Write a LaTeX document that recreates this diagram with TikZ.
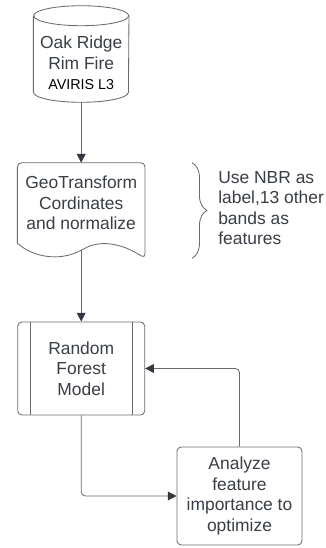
\documentclass[tikz,border=0pt]{standalone}
\usepackage{fontspec}
\setmainfont{Liberation Sans}
\definecolor{LineGray}{RGB}{104, 108, 114}
\definecolor{TextGray}{RGB}{58, 63, 71}
\definecolor{TipDark}{RGB}{52, 57, 64}
\usetikzlibrary{arrows.meta, positioning, calc, decorations.pathreplacing}

\begin{document}
\begin{tikzpicture}[
        plain/.style={align=center, text=TextGray, inner sep=0pt, font=\fontsize{12.4}{14.6}\selectfont},
        box/.style={plain, draw=LineGray, line width=0.6pt, rounded corners=3pt},
        outline/.style={draw=LineGray, line width=0.6pt},
        flow/.style={outline, rounded corners=3pt, -{Triangle[length=0.22cm, width=0.22cm, color=TipDark]}}
    ]
        \fill[white] (0,0) rectangle (8.15,13.7);

        % Data source, cylinder drawn round the text node
        \node[plain, minimum width=2.375cm, minimum height=1.85cm] (src) at (2.03, 12.125)
            {Oak Ridge\\Rim Fire\\{\color{black}\fontsize{10.2}{14.6}\selectfont AVIRIS L3}};
        \draw[outline] ($(src.north west)+(0,0.25)$) -- ($(src.south west)+(0,0.2)$)
            arc[start angle=180, end angle=360, x radius=1.1875, y radius=0.25] -- ($(src.north east)+(0,0.25)$);
        \draw[outline] ($(src.north)+(0,0.25)$) ellipse[x radius=1.1875, y radius=0.25];
        \coordinate (src bot) at ($(src.south)+(0,-0.05)$);

        % Preprocessing, document shape with wavy bottom
        \node[plain, minimum width=3.175cm, minimum height=2cm] (geo) at (2.03, 8.625)
            {GeoTransform\\Cordinates\\and normalize};
        \draw[outline, rounded corners=3pt] (geo.south west) -- (geo.north west) -- (geo.north east)
            -- ($(geo.south east)+(0,-0.375)$)
            .. controls ($(geo.south east)+(-0.625,0.025)$) and ($(geo.south)+(0.4625,0.075)$) .. ($(geo.south)+(0,-0.175)$)
            .. controls ($(geo.south)+(-0.5375,-0.425)$) and ($(geo.south west)+(0.425,-0.375)$) .. (geo.south west);
        \coordinate (geo bot) at ($(geo.south)+(0,-0.175)$);

        % Brace with the note on features
        \draw[outline, decorate, decoration={brace, amplitude=0.375cm}]
            ($(geo.north east)+(1.175,0)$) -- ($(geo.south east)+(1.175,-0.375)$);
        \node[plain, align=left, anchor=west] (note) at (5.45, 8.5) {Use NBR as\\label,13 other\\bands as\\features};

        % Model, predefined process box
        \node[box, minimum width=3.175cm, minimum height=2.325cm] (rf) at (2.03, 4.4875) {Random\\Forest\\Model};
        \draw[outline] ($(rf.north west)+(0.33,0)$) -- ($(rf.south west)+(0.33,0)$)
            ($(rf.north east)+(-0.31,0)$) -- ($(rf.south east)+(-0.31,0)$);

        \node[box, minimum width=3.125cm, minimum height=2.45cm] (ana) at (5.9875, 1.3)
            {Analyze\\feature\\importance to\\optimize};

        % Connectors
        \draw[flow] (src bot) -- (geo.north);
        \draw[flow] (geo bot) -- (rf.north);
        \draw[flow] (rf.south) |- (ana.west);
        \draw[flow] (ana.north) |- (rf.east);
    \end{tikzpicture}
\end{document}
